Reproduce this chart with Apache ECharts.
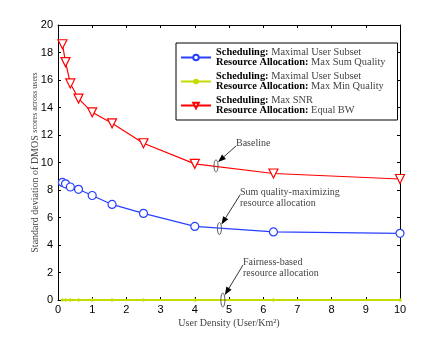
<!DOCTYPE html>
<html>
<head>
<meta charset="utf-8">
<script src="https://cdn.jsdelivr.net/npm/echarts@6/dist/echarts.min.js"></script>
<style>
html,body{margin:0;padding:0;background:#fff;}
#main{width:442px;height:338px;}
</style>
</head>
<body>
<div id="main"></div>
<script>
// user density (x) values
var density = [0.13, 0.22, 0.36, 0.6, 1, 1.58, 2.5, 4, 6.3, 10]
// series values
var maxSumQuality = [8.55, 8.45, 8.22, 8.05, 7.6, 6.95, 6.3, 5.35, 4.95, 4.85]
var maxMinQuality = [0, 0, 0, 0, 0, 0, 0, 0, 0, 0]
var equalBW = [18.6, 17.3, 15.75, 14.65, 13.65, 12.85, 11.4, 9.9, 9.2, 8.8]
var xTicks = [0, 1, 2, 3, 4, 5, 6, 7, 8, 9, 10]
var yTicks = [0, 2, 4, 6, 8, 10, 12, 14, 16, 18, 20]

var serif = 'Liberation Serif'
var sans = 'Liberation Sans'

function pairs(xs, ys) {
	var out = []
	for (var i = 0; i < xs.length; i++) {
		out.push([xs[i], ys[i]])
	}
	return out
}

var legendRich = {
	b: {fontFamily: serif, fontWeight: 'bold', fontSize: 10.4, color: '#000', lineHeight: 10.5},
	n: {fontFamily: serif, fontSize: 10.4, color: '#444', lineHeight: 10.5}
}
var legendText = {
	'A': '{b|Scheduling:} {n|Maximal User Subset}\n{b|Resource Allocation:} {n|Max Sum Quality}',
	'B': '{b|Scheduling:} {n|Maximal User Subset}\n{b|Resource Allocation:} {n|Max Min Quality}',
	'C': '{b|Scheduling:} {n|Max SNR}\n{b|Resource Allocation:} {n|Equal BW}'
}

var myChart = echarts.init(document.getElementById('main'), null, {renderer: 'canvas'})

var axisCommon = {
	type: 'value',
	axisLine: {show: true, onZero: false, lineStyle: {color: '#000', width: 1}},
	axisTick: {show: true, inside: true, length: 3, lineStyle: {color: '#000'}},
	splitLine: {show: false}
}

myChart.setOption({
	animation: false,
	backgroundColor: '#fff',
	grid: {left: 58, right: 42, top: 25, bottom: 38, containLabel: false},
	xAxis: [
		Object.assign({}, axisCommon, {
			min: xTicks[0], max: xTicks[xTicks.length - 1], interval: 1,
			position: 'bottom',
			name: 'User Density (User/Km²)',
			nameLocation: 'middle', nameGap: 18, nameMoveOverlap: false,
			nameTextStyle: {fontFamily: serif, fontSize: 10, color: '#444'},
			axisLabel: {fontFamily: sans, fontSize: 11, color: '#000', margin: 4}
		}),
		Object.assign({}, axisCommon, {
			min: xTicks[0], max: xTicks[xTicks.length - 1], interval: 1,
			position: 'top',
			axisLabel: {show: false}
		})
	],
	yAxis: [
		Object.assign({}, axisCommon, {
			min: yTicks[0], max: yTicks[yTicks.length - 1], interval: 2,
			position: 'left',
			name: '{a|Standard deviation of DMOS} {c|scores across users}',
			nameLocation: 'middle', nameGap: 18, nameMoveOverlap: false,
			nameTextStyle: {
				color: '#444', fontSize: 10, fontFamily: serif,
				rich: {
					a: {fontFamily: serif, fontSize: 10, color: '#444'},
					c: {fontFamily: serif, fontSize: 8, color: '#444'}
				}
			},
			axisLabel: {fontFamily: sans, fontSize: 11, color: '#000', margin: 5}
		}),
		Object.assign({}, axisCommon, {
			min: yTicks[0], max: yTicks[yTicks.length - 1], interval: 2,
			position: 'right',
			axisLabel: {show: false}
		})
	],
	legend: {
		left: 176, top: 43,
		orient: 'vertical',
		backgroundColor: '#fff',
		borderColor: '#000', borderWidth: 1,
		padding: [4, 12, 4, 4],
		itemWidth: 30, itemHeight: 7, itemGap: 3,
		data: ['A', 'B', 'C'],
		formatter: function (name) { return legendText[name] },
		textStyle: {fontFamily: serif, fontSize: 10.4, lineHeight: 10.5, rich: legendRich, padding: [0, 0, 0, 0]}
	},
	series: [
		{
			name: 'A', type: 'line',
			data: pairs(density, maxSumQuality),
			symbol: 'circle', symbolSize: 8,
			itemStyle: {color: '#fff', borderColor: '#2840ff', borderWidth: 1.2},
			lineStyle: {color: '#2840ff', width: 1.2},
			z: 3
		},
		{
			name: 'B', type: 'line',
			data: pairs(density, maxMinQuality),
			symbol: 'circle', symbolSize: 2.5,
			itemStyle: {color: '#c4dc00', borderColor: '#c4dc00'},
			lineStyle: {color: '#c4dc00', width: 2},
			z: 4
		},
		{
			name: 'C', type: 'line',
			data: pairs(density, equalBW),
			symbol: 'triangle', symbolRotate: 180, symbolSize: 9,
			itemStyle: {color: '#fff', borderColor: '#ff0000', borderWidth: 1.2},
			lineStyle: {color: '#ff0000', width: 1.2},
			z: 3
		}
	]
})

// annotations: ellipse on curve, arrow, label
var notes = [
	{x: 4.62, y: 9.75, ry: 6, lines: ['Baseline'], tx: 236, ty: 144},
	{x: 4.72, y: 5.2, ry: 6, lines: ['Sum quality-maximizing', 'resource allocation'], tx: 240, ty: 193},
	{x: 4.82, y: 0, ry: 7, lines: ['Fairness-based', 'resource allocation'], tx: 243, ty: 263}
]

var gfx = []
notes.forEach(function (nt) {
	var p = myChart.convertToPixel({gridIndex: 0}, [nt.x, nt.y])
	gfx.push({
		type: 'ellipse', z: 100,
		shape: {cx: p[0], cy: p[1], rx: 2, ry: nt.ry},
		style: {fill: 'none', stroke: '#555', lineWidth: 1}
	})
	var sx = p[0] + 2, sy = p[1] - nt.ry + 2
	var ex = nt.tx, ey = nt.ty + 2
	var ang = Math.atan2(sy - ey, sx - ex)
	var hl = 8, hw = 3
	var bx = sx - Math.cos(ang) * hl, by = sy - Math.sin(ang) * hl
	gfx.push({
		type: 'line', z: 100,
		shape: {x1: ex, y1: ey, x2: bx, y2: by},
		style: {stroke: '#000', lineWidth: 0.8}
	})
	gfx.push({
		type: 'polygon', z: 100,
		shape: {points: [
			[sx, sy],
			[bx + Math.sin(ang) * hw, by - Math.cos(ang) * hw],
			[bx - Math.sin(ang) * hw, by + Math.cos(ang) * hw]
		]},
		style: {fill: '#000'}
	})
	gfx.push({
		type: 'text', z: 100,
		x: nt.tx, y: nt.ty - 6,
		style: {
			text: nt.lines.join('\n'),
			font: '10px "' + serif + '"',
			fill: '#444', lineHeight: 11
		}
	})
})
myChart.setOption({graphic: gfx})
</script>
</body>
</html>
